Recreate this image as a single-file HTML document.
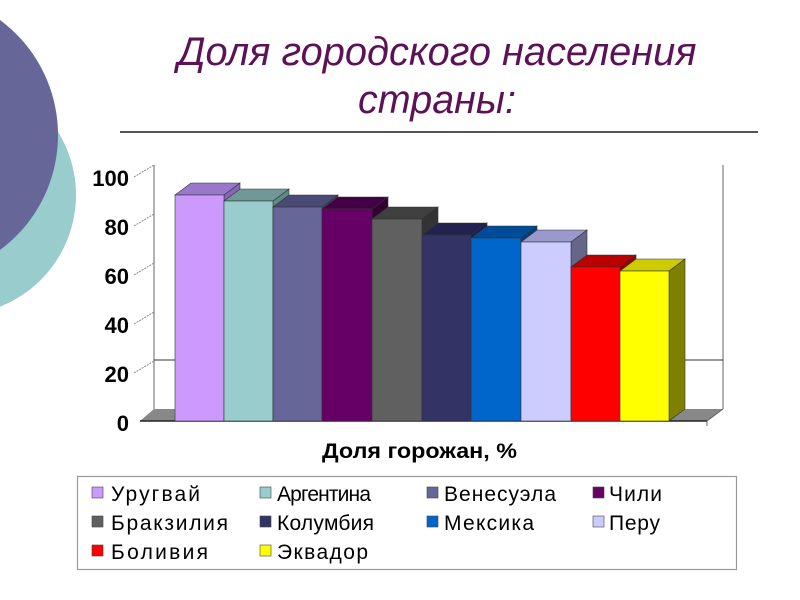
<!DOCTYPE html>
<html><head><meta charset="utf-8"><style>
html,body{margin:0;padding:0;background:#fff;width:800px;height:600px;overflow:hidden}
svg{display:block}
text{font-family:"Liberation Sans",Arial,sans-serif}
</style></head><body>
<svg width="800" height="600" viewBox="0 0 800 600" xmlns="http://www.w3.org/2000/svg">
<circle cx="-44" cy="195" r="120" fill="#99cccc"/>
<circle cx="-85" cy="135" r="143" fill="#666699"/>
<text x="437" y="65" font-size="39.5" font-style="italic" fill="#5c1257" text-anchor="middle" textLength="519" lengthAdjust="spacingAndGlyphs">Доля городского населения</text>
<text x="437" y="113" font-size="39.5" font-style="italic" fill="#5c1257" text-anchor="middle">страны:</text>
<line x1="120" y1="132" x2="758" y2="132" stroke="#555" stroke-width="2"/>
<line x1="154" y1="165" x2="154" y2="409" stroke="#999" stroke-width="1.5"/>
<line x1="723" y1="165" x2="723" y2="409" stroke="#999" stroke-width="1.5"/>
<line x1="154" y1="360" x2="723" y2="360" stroke="#333" stroke-width="1"/>
<polygon points="140,421 154,409 723,409 707,421" fill="#888"/>
<line x1="140" y1="421" x2="707" y2="421" stroke="#222" stroke-width="1.5"/>
<line x1="707" y1="421" x2="723" y2="409" stroke="#666"/>
<line x1="707" y1="421" x2="707" y2="426" stroke="#666"/>
<g stroke="#888" stroke-width="1" stroke-dasharray="2,1">
<line x1="134" y1="177" x2="154" y2="165"/>
<line x1="134" y1="226" x2="154" y2="214"/>
<line x1="134" y1="275" x2="154" y2="263"/>
<line x1="134" y1="324" x2="154" y2="312"/>
<line x1="134" y1="373" x2="154" y2="361"/>
</g>
<g font-size="22" font-weight="bold" text-anchor="end" fill="#000">
<text x="129" y="186">100</text>
<text x="129" y="235">80</text>
<text x="129" y="284">60</text>
<text x="129" y="333">40</text>
<text x="129" y="382">20</text>
<text x="129" y="431">0</text>
</g>
<g stroke="#333" stroke-width="0.6">
<polygon points="224,195 240,183 240,409 224,421" fill="#8866bb"/><polygon points="175,195 191,183 240,183 224,195" fill="#9977cc"/><rect x="175" y="195" width="49" height="226" fill="#cc99ff"/>
<polygon points="273,201 289,189 289,409 273,421" fill="#5f8888"/><polygon points="224,201 240,189 289,189 273,201" fill="#6f9999"/><rect x="224" y="201" width="49" height="220" fill="#99cccc"/>
<polygon points="322,207 338,195 338,409 322,421" fill="#3f3f66"/><polygon points="273,207 289,195 338,195 322,207" fill="#4a4a77"/><rect x="273" y="207" width="49" height="214" fill="#666699"/>
<polygon points="372,209 388,197 388,409 372,421" fill="#330033"/><polygon points="322,209 338,197 388,197 372,209" fill="#440044"/><rect x="322" y="209" width="50" height="212" fill="#660066"/>
<polygon points="422,219 438,207 438,409 422,421" fill="#333"/><polygon points="372,219 388,207 438,207 422,219" fill="#404040"/><rect x="372" y="219" width="50" height="202" fill="#606060"/>
<polygon points="471,235 487,223 487,409 471,421" fill="#1c1c44"/><polygon points="422,235 438,223 487,223 471,235" fill="#222250"/><rect x="422" y="235" width="49" height="186" fill="#333366"/>
<polygon points="521,238 537,226 537,409 521,421" fill="#003f80"/><polygon points="471,238 487,226 537,226 521,238" fill="#004c99"/><rect x="471" y="238" width="50" height="183" fill="#0066cc"/>
<polygon points="571,242 587,230 587,409 571,421" fill="#666688"/><polygon points="521,242 537,230 587,230 571,242" fill="#9999cc"/><rect x="521" y="242" width="50" height="179" fill="#ccccff"/>
<polygon points="620,267 636,255 636,409 620,421" fill="#990000"/><polygon points="571,267 587,255 636,255 620,267" fill="#bb0000"/><rect x="571" y="267" width="49" height="154" fill="#ff0000"/>
<polygon points="669,271 685,259 685,409 669,421" fill="#808000"/><polygon points="620,271 636,259 685,259 669,271" fill="#cccc00"/><rect x="620" y="271" width="49" height="150" fill="#ffff00"/>
</g>
<text x="322" y="458" font-size="21" font-weight="bold" textLength="195" lengthAdjust="spacingAndGlyphs">Доля горожан, %</text>
<rect x="77.5" y="476.5" width="659" height="93" fill="none" stroke="#999" stroke-width="1.2"/>
<g stroke="#444" stroke-width="0.6">
<rect x="92" y="487" width="11" height="11" fill="#cc99ff"/>
<rect x="260" y="487" width="11" height="11" fill="#99cccc"/>
<rect x="427" y="487" width="11" height="11" fill="#666699"/>
<rect x="593" y="487" width="11" height="11" fill="#660066"/>
<rect x="92" y="516" width="11" height="11" fill="#606060"/>
<rect x="260" y="516" width="11" height="11" fill="#333366"/>
<rect x="427" y="516" width="11" height="11" fill="#0066cc"/>
<rect x="593" y="516" width="11" height="11" fill="#ccccff"/>
<rect x="92" y="545" width="11" height="11" fill="#ff0000"/>
<rect x="260" y="545" width="11" height="11" fill="#ffff00"/>
</g>
<g font-size="21" fill="#000" lengthAdjust="spacingAndGlyphs">
<text x="111" y="501" textLength="89">Уругвай</text>
<text x="277" y="501" textLength="94">Аргентина</text>
<text x="444" y="501" textLength="112">Венесуэла</text>
<text x="609" y="501" textLength="53">Чили</text>
<text x="111" y="530" textLength="117">Бракзилия</text>
<text x="277" y="530" textLength="97">Колумбия</text>
<text x="444" y="530" textLength="90">Мексика</text>
<text x="609" y="530" textLength="51">Перу</text>
<text x="111" y="559" textLength="97">Боливия</text>
<text x="277" y="559" textLength="91">Эквадор</text>
</g>
</svg>
</body></html>
